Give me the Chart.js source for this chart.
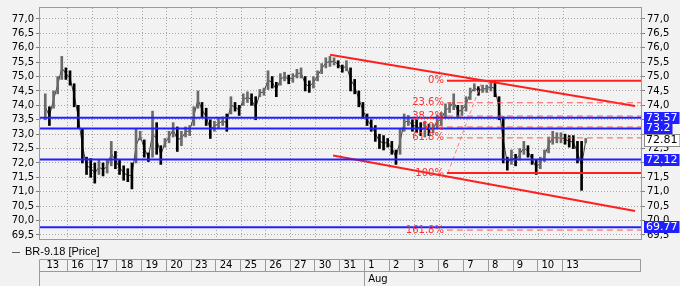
<!DOCTYPE html>
<html>
<head>
<meta charset="utf-8">
<script src="https://cdn.jsdelivr.net/npm/chart.js@4.4.0/dist/chart.umd.min.js"></script>
<style>
  html, body { margin: 0; padding: 0; background: #f2f2f2; }
  #wrap { width: 680px; height: 286px; }
</style>
</head>
<body>
<div id="wrap"><canvas id="chart" width="680" height="286"></canvas></div>
<script>
// Trading days shown on the date strip (July 13 .. August 13)
const days = ['13', '16', '17', '18', '19', '20', '23', '24', '25', '26', '27', '30', '31',
  '1', '2', '3', '6', '7', '8', '9', '10', '13']
const monthStart = 13 // first day of Aug
const monthName = 'Aug'
const slotsPerDay = 6

// Price bars, six per day: lows and highs
const lows = [
  73.5, 73.3, 73.9, 74.4, 74.9, 74.9,       // 13
  74.7, 73.95, 73.2, 72.0, 71.6, 71.5,      // 16
  71.3, 71.6, 71.55, 71.65, 71.9, 71.8,     // 17
  71.6, 71.4, 71.35, 71.1, 72.0, 72.8,      // 18
  72.2, 72.05, 72.2, 72.3, 71.95, 72.55,    // 19
  72.7, 72.9, 72.4, 72.6, 72.9, 72.95,      // 20
  73.3, 73.9, 73.6, 73.3, 72.85, 73.1,      // 23
  73.2, 73.3, 73.1, 73.7, 73.8, 73.65,      // 24
  74.0, 74.1, 74.0, 73.5, 74.3, 74.35,      // 25
  74.55, 74.6, 74.3, 74.7, 74.85, 74.75,    // 26
  74.8, 74.95, 74.95, 74.5, 74.45, 74.6,    // 27
  74.85, 75.1, 75.3, 75.35, 75.4, 75.3,     // 30
  75.15, 75.2, 74.5, 74.4, 73.95, 73.55,    // 31
  73.3, 73.1, 72.75, 72.5, 72.45, 72.55,    // 1
  72.3, 71.95, 72.3, 73.1, 73.3, 73.1,      // 2
  73.05, 72.95, 72.9, 72.95, 73.05, 73.2,   // 3
  73.3, 73.6, 73.75, 73.85, 73.6, 73.65,    // 6
  73.8, 74.2, 74.5, 74.35, 74.45, 74.45,    // 7
  74.5, 74.3, 73.5, 72.0, 71.75, 71.95,     // 8
  71.9, 72.1, 72.3, 72.2, 71.95, 71.6,      // 9
  71.8, 72.05, 72.35, 72.65, 72.7, 72.7,    // 10
  72.65, 72.55, 72.5, 72.0, 71.05, 72.7     // 13
]
const highs = [
  74.4, 73.95, 74.5, 75.0, 75.7, 75.3,
  75.2, 74.75, 74.0, 73.2, 72.2, 72.15,
  72.0, 72.1, 72.0, 72.1, 72.75, 72.4,
  72.1, 71.9, 71.8, 72.0, 73.2, 73.1,
  72.8, 72.35, 73.8, 73.4, 72.6, 72.85,
  73.1, 73.4, 73.25, 73.1, 73.25, 73.3,
  73.95, 74.5, 74.1, 73.9, 73.5, 73.45,
  73.55, 73.6, 73.7, 74.3, 74.1, 74.0,
  74.4, 74.47, 74.4, 74.3, 74.55, 74.6,
  75.2, 75.0, 74.8, 75.1, 75.15, 75.05,
  75.1, 75.25, 75.3, 75.0, 74.85, 75.0,
  75.2, 75.45, 75.65, 75.7, 75.65, 75.55,
  75.4, 75.55, 75.3, 74.9, 74.5, 74.1,
  73.7, 73.5, 73.3, 73.0, 72.95, 72.85,
  72.75, 72.45, 73.2, 73.7, 73.65, 73.5,
  73.5, 73.4, 73.45, 73.35, 73.35, 73.65,
  73.75, 74.05, 74.1, 74.4, 74.0, 74.0,
  74.3, 74.6, 74.75, 74.65, 74.7, 74.7,
  74.8, 74.85, 74.3, 73.6, 72.2, 72.45,
  72.3, 72.5, 72.75, 72.6, 72.3, 72.1,
  72.2, 72.45, 72.9, 73.1, 73.05, 73.05,
  73.0, 72.95, 72.95, 72.75, 72.75, 72.85
]

const yTicks = [69.5, 70.0, 70.5, 71.0, 71.5, 72.0, 72.5, 73.0, 73.5, 74.0, 74.5, 75.0, 75.5, 76.0, 76.5, 77.0]
const yMin = 69.36
const yMax = 77.38
const xMin = -0.13
const xMax = 24.15

// Horizontal support/resistance levels and last price
const levels = [73.57, 73.2, 72.12, 69.77]
const lastPrice = 72.81

// Fibonacci retracement
const fibLabels = ['0%', '23.6%', '38.2%', '50%', '61.8%', '100%', '161.8%']
const fibValues = [74.85, 74.09, 73.63, 73.25, 72.87, 71.65, 69.67]
const fibStart = 16.31
const fibDiagonal = [{ x: 16.35, y: 71.65 }, { x: 17.73, y: 74.85 }]

// Trend channel
const upperTrend = [{ x: 11.59, y: 75.76 }, { x: 23.91, y: 73.98 }]
const lowerTrend = [{ x: 11.71, y: 72.26 }, { x: 23.91, y: 70.33 }]

const seriesName = 'BR-9.18 [Price]'

const FONT = 'DejaVu Sans'
const BLUE = '#2020ff'
const RED = '#ff1f1f'
const GRID = '#a8a8a8'

// Build bar data
const barData = []
const barColors = []
const midLine = []
lows.forEach((lo, i) => {
  const d = Math.floor(i / slotsPerDay)
  const s = i % slotsPerDay
  const x = d + (s + 0.5) / slotsPerDay
  barData.push({ x, y: [lo, highs[i]] })
  const mid = (lo + highs[i]) / 2
  midLine.push({ x, y: mid })
  const prev = i > 0 ? (lows[i - 1] + highs[i - 1]) / 2 : mid
  barColors.push(mid < prev ? '#000000' : '#6a6a6a')
})

function hLine(v, from, color, width, dash) {
  return {
    type: 'line',
    data: [{ x: from, y: v }, { x: xMax, y: v }],
    borderColor: color,
    borderWidth: width,
    borderDash: dash || [],
    pointRadius: 0,
    fill: false
  }
}

const datasets = []
levels.forEach(v => datasets.push(hLine(v, xMin, BLUE, 2)))
fibValues.forEach((v, i) => {
  const solid = i === 0 || fibLabels[i] === '100%'
  datasets.push(solid ? hLine(v, fibStart, RED, 2) : hLine(v, fibStart, '#ff5a5a', 1, [6, 4]))
})
datasets.push({ type: 'line', data: fibDiagonal, borderColor: '#ff8080', borderWidth: 1, borderDash: [4, 3], pointRadius: 0 })
datasets.push({ type: 'line', data: upperTrend, borderColor: RED, borderWidth: 2, pointRadius: 0 })
datasets.push({ type: 'line', data: lowerTrend, borderColor: RED, borderWidth: 2, pointRadius: 0 })
datasets.push({
  type: 'bar',
  data: barData,
  backgroundColor: barColors,
  barThickness: 2,
  order: 10
})
datasets.push({
  type: 'line',
  data: midLine,
  borderColor: '#3a3a3a',
  borderWidth: 1,
  pointRadius: 0,
  order: 11
})

const fmtTick = v => Number(v).toFixed(1).replace('.', ',')

const overlay = {
  id: 'overlay',
  afterDraw(chart) {
    const { ctx, chartArea: a, scales: { x, y } } = chart
    ctx.save()

    // plot frame
    ctx.strokeStyle = '#9a9a9a'
    ctx.lineWidth = 1
    ctx.strokeRect(a.left - 0.5, a.top - 0.5, a.right - a.left + 1, a.bottom - a.top + 1)

    // fibonacci labels
    ctx.font = '10px "' + FONT + '"'
    ctx.fillStyle = '#ff3030'
    ctx.textAlign = 'right'
    ctx.textBaseline = 'middle'
    const fx = x.getPixelForValue(fibStart) - 3
    fibValues.forEach((v, i) => ctx.fillText(fibLabels[i], fx, y.getPixelForValue(v)))

    // value boxes on the right axis
    ctx.font = '11px "' + FONT + '"'
    ctx.textAlign = 'left'
    const box = (v, fill, text, stroke) => {
      const t = String(v)
      const w = ctx.measureText(t).width + 4
      const cy = Math.round(y.getPixelForValue(v))
      ctx.fillStyle = fill
      ctx.fillRect(a.right + 3, cy - 6, w, 12)
      if (stroke) {
        ctx.strokeStyle = stroke
        ctx.strokeRect(a.right + 3.5, cy - 5.5, w, 12)
      }
      ctx.fillStyle = text
      ctx.fillText(t, a.right + 5, cy + 0.5)
    }
    levels.forEach(v => box(v, BLUE, '#ffffff'))
    box(lastPrice, '#ffffff', '#000000', '#8a8a8a')

    // legend
    ctx.strokeStyle = '#606060'
    ctx.beginPath()
    ctx.moveTo(12, 252.5)
    ctx.lineTo(20, 252.5)
    ctx.stroke()
    ctx.font = '11px "Liberation Sans"'
    ctx.fillStyle = '#000000'
    ctx.fillText(seriesName, 25, 252)

    // date strip cells
    const top = 259.5
    const mid = 271.5
    const bottom = 286
    ctx.strokeStyle = '#9a9a9a'
    ctx.beginPath()
    ctx.moveTo(a.left, top); ctx.lineTo(a.right, top)
    ctx.moveTo(a.left, mid); ctx.lineTo(a.right, mid)
    ctx.moveTo(a.left - 0.5, top); ctx.lineTo(a.left - 0.5, bottom)
    ctx.moveTo(a.right - 0.5, top); ctx.lineTo(a.right - 0.5, mid)
    for (let i = 1; i < days.length; i++) {
      const px = Math.round(x.getPixelForValue(i)) - 0.5
      ctx.moveTo(px, top)
      ctx.lineTo(px, i === monthStart ? bottom : mid)
    }
    ctx.stroke()
    ctx.restore()
  }
}

new Chart(document.getElementById('chart'), {
  type: 'bar',
  data: { datasets },
  options: {
    responsive: false,
    animation: false,
    devicePixelRatio: 1,
    layout: { padding: { top: 5, left: 0, right: 0, bottom: 0 } },
    plugins: { legend: { display: false }, tooltip: { enabled: false } },
    scales: {
      x: {
        type: 'linear',
        position: 'bottom',
        min: xMin,
        max: xMax,
        offset: false,
        afterBuildTicks: s => { s.ticks = days.map((d, i) => ({ value: i })) },
        afterFit: s => { s.height = 47 },
        grid: {
          offset: false,
          drawTicks: false,
          color: c => (c.index === 0 ? 'rgba(0,0,0,0)' : GRID)
        },
        border: { display: false, dash: [1, 2] },
        ticks: {
          autoSkip: false,
          maxRotation: 0,
          align: 'start',
          padding: 19,
          color: '#000',
          font: { family: FONT, size: 10, lineHeight: '14px' },
          callback: (v, i) => (i === monthStart ? [' ' + days[i], ' ' + monthName] : ' ' + days[i])
        }
      },
      y: {
        type: 'linear',
        position: 'left',
        min: yMin,
        max: yMax,
        beginAtZero: false,
        afterBuildTicks: s => { s.ticks = yTicks.map(v => ({ value: v })) },
        afterFit: s => { s.width = 40 },
        grid: { color: GRID, tickLength: 4, tickColor: '#808080' },
        border: { display: false, dash: [1, 2] },
        ticks: { padding: 2, color: '#000', font: { family: FONT, size: 10 }, callback: fmtTick }
      },
      y2: {
        type: 'linear',
        position: 'right',
        min: yMin,
        max: yMax,
        afterBuildTicks: s => { s.ticks = yTicks.map(v => ({ value: v })) },
        afterFit: s => { s.width = 39 },
        grid: { drawOnChartArea: false, tickLength: 4, tickColor: '#808080' },
        border: { display: false },
        ticks: { padding: 2, color: '#000', font: { family: FONT, size: 10 }, callback: fmtTick }
      }
    }
  },
  plugins: [overlay]
})
</script>
</body>
</html>
